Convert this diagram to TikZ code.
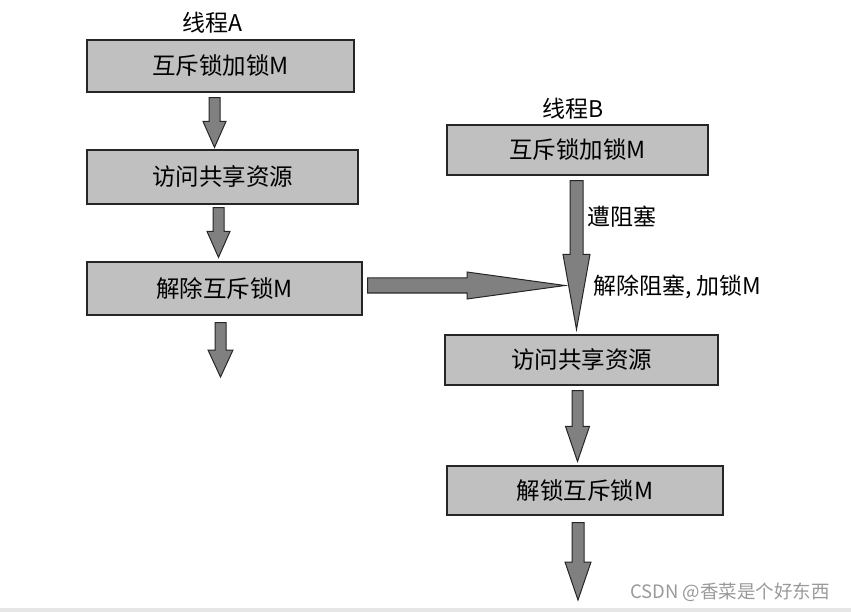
\documentclass[tikz,border=0pt]{standalone}
\usepackage{fontspec}
\setmainfont{Noto Sans CJK SC}
\usetikzlibrary{positioning, calc}
\definecolor{boxgray}{HTML}{C0C0C0}
\definecolor{arrowgray}{HTML}{808080}
\definecolor{stripgray}{HTML}{E6E6E7}

\begin{document}
\begin{tikzpicture}[x=1pt, y=-1pt,
  box/.style = {draw=black!85, line width=1.2pt, fill=boxgray, inner sep=0pt, font=\fontsize{23.5}{27}\selectfont},
  title/.style = {inner sep=0pt, font=\fontsize{23}{27}\selectfont},
  note/.style = {inner sep=0pt, anchor=west, font=\fontsize{23}{27}\selectfont},
  blk/.style n args = {3}{draw=black!85, line width=1pt, fill=arrowgray,
    to path={let \p1=(\tikztostart), \p2=(\tikztotarget) in
      (\x1-#1pt,\y1) -- (\x1-#1pt,\y2+#3pt) -- (\x1-#2pt,\y2+#3pt) -- (\x1,\y2)
      -- (\x1+#2pt,\y2+#3pt) -- (\x1+#1pt,\y2+#3pt) -- (\x1+#1pt,\y1) -- cycle}},
  hblk/.style n args = {3}{draw=black!85, line width=1pt, fill=arrowgray,
    to path={let \p1=(\tikztostart), \p2=(\tikztotarget) in
      (\x1,\y1+#1pt) -- (\x2-#3pt,\y1+#1pt) -- (\x2-#3pt,\y1+#2pt) -- (\x2,\y1)
      -- (\x2-#3pt,\y1-#2pt) -- (\x2-#3pt,\y1-#1pt) -- (\x1,\y1-#1pt) -- cycle}}]

  \useasboundingbox (0,0) rectangle (851,612);
  \fill[stripgray] (0,608) rectangle (851,612);

  % Thread A
  \node[box, minimum width=267pt, minimum height=52pt] (A1) at (220.5,66) {互斥锁加锁M};
  \node[box, minimum width=271pt, minimum height=54pt] (A2) at (222.5,177) {访问共享资源};
  \node[box, minimum width=275pt, minimum height=53pt] (A3) at (224.5,288.5) {解除互斥锁M};
  \node[title, above=6pt of A1, xshift=-8pt] (tA) {线程A};
  \coordinate (Aend) at (220.5,377);

  % Thread B
  \node[box, minimum width=261pt, minimum height=50pt] (B1) at (577.5,150) {互斥锁加锁M};
  \node[box, minimum width=273pt, minimum height=50pt] (B2) at (581.5,360) {访问共享资源};
  \node[box, minimum width=276pt, minimum height=49pt] (B3) at (585,490.5) {解锁互斥锁M};
  \node[title, above=5pt of B1, xshift=-4pt] (tB) {线程B};
  \coordinate (Bend) at (578,600);
  \coordinate (meet) at (565,285.5);

  % Arrows
  \draw[blk={5.5}{11.5}{26}] ([xshift=-6pt,yshift=-5pt]A1.south) to ([yshift=2pt]A2.north);
  \draw[blk={5.5}{11.5}{26}] ([xshift=-4pt,yshift=-3pt]A2.south) to ([yshift=4pt]A3.north);
  \draw[blk={5.5}{12.5}{27}] ([xshift=-4pt,yshift=-7pt]A3.south) to (Aend);
  \draw[blk={6.5}{13.5}{75}] ([xshift=-1pt,yshift=-5pt]B1.south) to ([yshift=5pt]B2.north);
  \draw[blk={5.5}{12}{35}] ([xshift=-4pt,yshift=-5pt]B2.south) to ([yshift=4pt]B3.north);
  \draw[blk={6}{13}{38}] ([xshift=-7pt,yshift=-7pt]B3.south) to (Bend);
  \draw[hblk={7.5}{13.5}{98}] ([xshift=5pt,yshift=3pt]A3.east) to (meet);

  \node[note] (blocked) at (587,217) {遭阻塞};
  \node[note] (unblocked) at (593,287) {解除阻塞, 加锁M};

  \node[text=black!40, font=\fontsize{18.5}{22}\selectfont] (wm) at (730,592) {CSDN @香菜是个好东西};
\end{tikzpicture}
\end{document}
